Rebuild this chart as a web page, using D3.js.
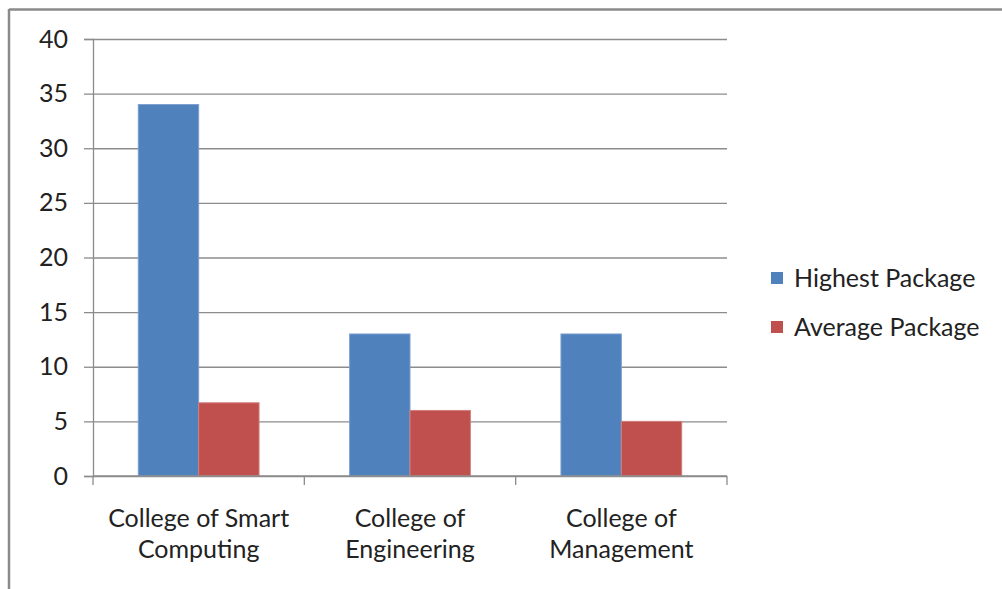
<!DOCTYPE html>
<html><head><meta charset="utf-8">
<script src="https://cdn.jsdelivr.net/npm/d3@7"></script>
<style>
html,body{margin:0;padding:0;background:#fff;}
svg{display:block;font-family:Lato,"Open Sans",sans-serif;}
</style></head>
<body><svg id="c" width="1002" height="589"></svg>
<script>
const categories = [["College of Smart","Computing"],["College of","Engineering"],["College of","Management"]];
const seriesNames = ["Highest Package","Average Package"];
const highest = [34, 13, 13];
const average = [6.7, 6, 5];
const yTicks = [0,5,10,15,20,25,30,35,40];
const colors = ["#4F81BD","#C0504D"];
const strokes = ["#7C9FD0","#D27F7D"];

(function(){
const svg = d3.select("#c");
svg.append("line").attr("x1",9).attr("x2",1002).attr("y1",9.5).attr("y2",9.5).attr("stroke","#8a8a8a").attr("stroke-width",2.5);
svg.append("line").attr("x1",9).attr("x2",9).attr("y1",9).attr("y2",589).attr("stroke","#8a8a8a").attr("stroke-width",2.5);

const pL=93, pR=727, pT=39, pB=476;
const fs = "25px";
const x = d3.scaleBand().domain(d3.range(categories.length)).range([pL,pR]).paddingInner(0).paddingOuter(0);
const y = d3.scaleLinear().domain([0,40]).range([pB,pT]);
const inner = d3.scaleBand().domain([0,1]).range([0,x.bandwidth()]).paddingOuter(0.75).paddingInner(0);

const gy = svg.append("g").attr("transform",`translate(${pL},0)`)
  .call(d3.axisLeft(y).tickValues(yTicks).tickSize(-(pR-pL)).tickFormat(""));
gy.select(".domain").remove();
gy.selectAll("line").attr("stroke","#8c8c8c").attr("stroke-width",1.3);
const ya = svg.append("g").attr("transform",`translate(${pL},0)`)
  .call(d3.axisLeft(y).tickValues(yTicks).tickSize(9).tickPadding(16));
ya.select(".domain").attr("stroke","#8c8c8c").attr("stroke-width",1.3);
ya.selectAll("line").attr("stroke","#8c8c8c").attr("stroke-width",1.3);
ya.selectAll("text").attr("font-size",fs).attr("fill","#222").attr("font-family","Lato, sans-serif");

const data = [highest, average];
data.forEach((vals,s)=>{
  svg.append("g").selectAll("rect").data(vals).join("rect")
    .attr("x",(d,i)=>x(i)+inner(s))
    .attr("y",d=>y(d))
    .attr("width",inner.bandwidth())
    .attr("height",d=>pB-y(d))
    .attr("fill",colors[s]).attr("stroke",strokes[s]).attr("stroke-width",1);
});

const xa = svg.append("g").attr("transform",`translate(0,${pB})`);
xa.append("line").attr("x1",pL).attr("x2",pR).attr("y1",0).attr("y2",0).attr("stroke","#8c8c8c").attr("stroke-width",1.3);
const xt = [...d3.range(categories.length).map(i=>x(i)), pR];
xa.selectAll(".t").data(xt).join("line").attr("x1",d=>d).attr("x2",d=>d).attr("y1",0).attr("y2",9).attr("stroke","#8c8c8c").attr("stroke-width",1.3);
categories.forEach((lines,i)=>{
  const t = xa.append("text").attr("text-anchor","middle").attr("font-size",fs).attr("fill","#222");
  lines.forEach((l,k)=>t.append("tspan").attr("x",x(i)+x.bandwidth()/2).attr("y",51+k*31).text(l));
});

const lg = svg.append("g");
seriesNames.forEach((n,s)=>{
  lg.append("rect").attr("x",771).attr("y",272+s*49).attr("width",12).attr("height",12).attr("fill",colors[s]);
  lg.append("text").attr("x",794).attr("y",287+s*49).attr("font-size",fs).attr("fill","#222").text(n);
});
})();
</script></body></html>
